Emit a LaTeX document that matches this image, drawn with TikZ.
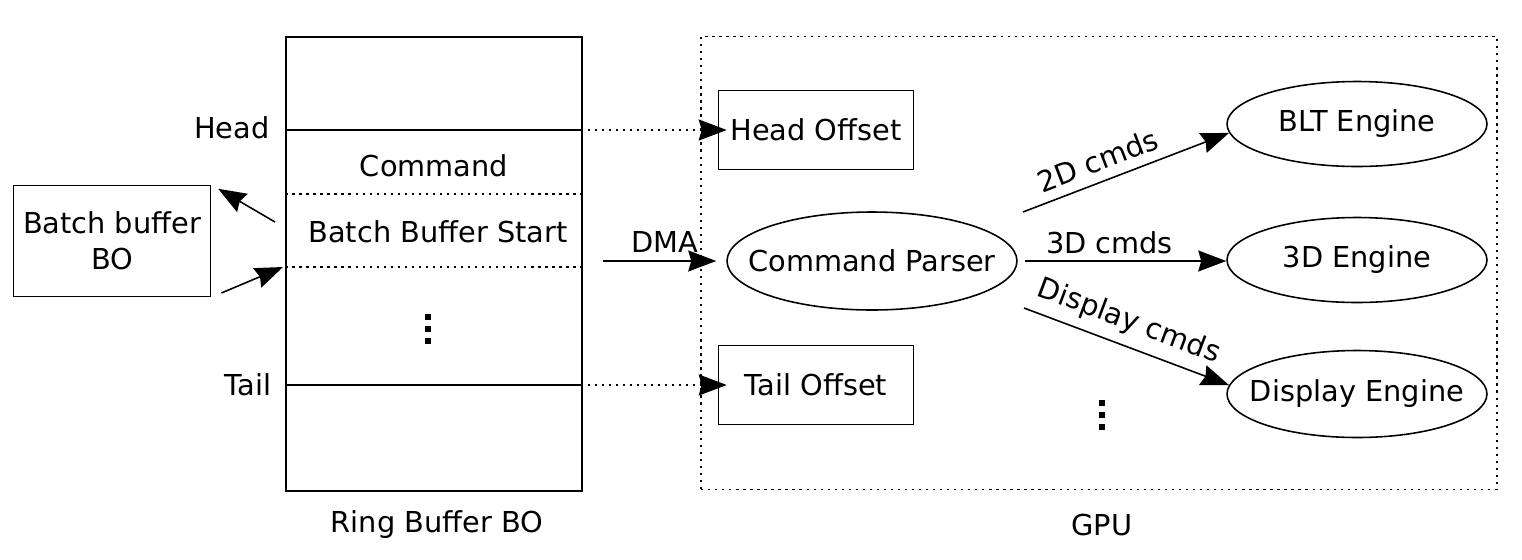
\documentclass[tikz,border=0pt]{standalone}
\usepackage{fontspec}
\setmainfont{DejaVu Sans}
\usepackage{tikz}
\usetikzlibrary{arrows.meta,positioning,shapes.geometric}

\begin{document}
\begin{tikzpicture}[
  x=0.02cm, y=-0.02cm,
  font=\fontsize{16.4}{20.5}\selectfont,
  line width=0.9pt,
  box/.style={draw, align=center, inner sep=0pt},
  oval/.style={draw, ellipse, inner xsep=-1.5cm, inner ysep=0pt},
  eng/.style={oval, minimum width=5.2cm, minimum height=1.7cm},
  arr/.style={-{Stealth[length=0.56cm, width=0.42cm, inset=0.06cm]}},
  dotln/.style={dash pattern=on 1.3pt off 2.7pt},
  darr/.style={arr, dotln}
]
\useasboundingbox (0,0) rectangle (1522,559);

% ring buffer
\node[box, minimum width=5.92cm, minimum height=9.08cm] (ring) at (434,264) {};
\draw (ring.west |- 0,130) -- (ring.east |- 0,130);
\draw[dotln] (ring.west |- 0,194) -- (ring.east |- 0,194);
\draw[dotln] (ring.west |- 0,267) -- (ring.east |- 0,267);
\draw (ring.west |- 0,385) -- (ring.east |- 0,385);
\node (cmd) at (434,166) {Command};
\node (bbs) at (438,232) {Batch Buffer Start};
\node[anchor=east] (headl) at (276,128) {Head};
\node[anchor=east] (taill) at (278,385) {Tail};
\foreach \y in {317,329,341}
  \fill (425,\y-3) rectangle (431,\y+3);
\node (ringl) at (437,525) {Ring Buffer BO};

% batch buffer
\node[box, minimum width=3.94cm, minimum height=2.22cm] (batch) at (112,241) {Batch buffer\\BO};
\coordinate (bbout) at (275,222);
\coordinate (bbin) at (283,267);
\draw[arr, shorten >=0.16cm] (bbout) -- (batch.north east);
\draw[arr, shorten <=0.22cm] (batch.south east) -- (bbin);

% gpu
\node[draw, dotln, inner sep=0pt, minimum width=15.92cm, minimum height=9.06cm] (gpu) at (1099,263) {};
\node (gpul) at (1102,525) {GPU};
\node[box, minimum width=3.9cm, minimum height=1.58cm] (hoff) at (816,130) {Head Offset};
\node[box, minimum width=3.9cm, minimum height=1.58cm] (toff) at (816,385) {Tail Offset};
\draw[darr, shorten <=0.1cm, shorten >=-0.18cm] (ring.east |- hoff) -- (hoff.west);
\draw[darr, shorten <=0.1cm, shorten >=-0.18cm] (ring.east |- toff) -- (toff.west);

\node[oval, minimum width=5.8cm, minimum height=1.96cm] (cp) at (872,261) {Command Parser};
\coordinate (dma) at (603,261);
\draw[arr, shorten >=0.2cm] (dma) -- (cp) node[midway, above=1pt] {DMA};

\node[eng] (blt) at (1357,124) {BLT Engine};
\node[eng] (e3d) at (1357,260) {3D Engine};
\node[eng, minimum height=1.74cm] (disp) at (1357,394) {Display Engine};
\coordinate (c2d) at (1023,212);
\coordinate (c3d) at (1025,261);
\coordinate (cdisp) at (1024,308);
\draw[arr] (c2d) -- (blt.184) node[pos=0.4, above=2pt, sloped] {2D cmds};
\draw[arr] (c3d) -- (c3d -| e3d.west) node[pos=0.42, above] {3D cmds};
\draw[arr] (cdisp) -- (disp.176) node[pos=0.47, above=2pt, sloped] {Display cmds};
\foreach \y in {403,415,427}
  \fill (1099,\y-3) rectangle (1105,\y+3);
\end{tikzpicture}
\end{document}
